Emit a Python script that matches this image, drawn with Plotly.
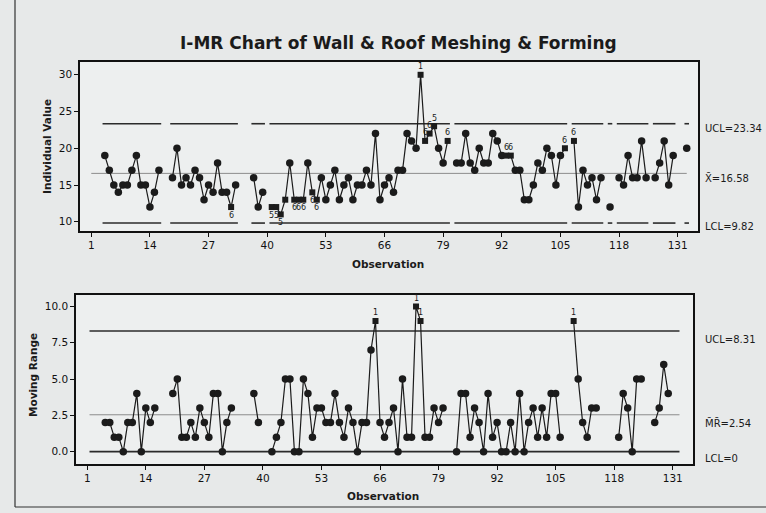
import plotly.graph_objects as go

# ---------------- data ----------------
observations = list(range(1, 134))

individual_values = [
    None, None, None, 19, 17, 15, 14, 15, 15, 17, 19, 15, 15, 12, 14, 17, None, None,
    16, 20, 15, 16, 15, 17, 16, 13, 15, 14, 18, 14, 14, 12, 15, None, None, None,
    16, 12, 14, None,
    12, 12, 11, 13, 18, 13, 13, 13, 18, 14, 13, 16, 13, 15, 17, 13, 15, 16, 13, 15,
    15, 17, 15, 22, 13, 15, 16, 14, 17, 17, 22, 21, 20, 30, 21, 22, 23, 20, 18, 21, None,
    18, 18, 22, 18, 17, 20, 18, 18, 22, 21, 19, 19, 19, 17, 17, 13, 13, 15, 18, 17,
    20, 19, 15, 19, 20, None,
    21, 12, 17, 15, 16, 13, 16, None, 12, None,
    16, 15, 19, 16, 16, 21, 16, None, 16, 18, 21, 15, 19, None, None, 20,
]

moving_range = [
    None, None, None, None, 2, 2, 1, 1, 0, 2, 2, 4, 0, 3, 2, 3, None, None, None,
    4, 5, 1, 1, 2, 1, 3, 2, 1, 4, 4, 0, 2, 3, None, None, None, None,
    4, 2, None, None,
    0, 1, 2, 5, 5, 0, 0, 5, 4, 1, 3, 3, 2, 2, 4, 2, 1, 3, 2, 0,
    2, 2, 7, 9, 2, 1, 2, 3, 0, 5, 1, 1, 10, 9, 1, 1, 3, 2, 3, None, None,
    0, 4, 4, 1, 3, 2, 0, 4, 1, 2, 0, 0, 2, 0, 4, 0, 2, 3, 1, 3, 1, 4, 4, 1, None, None,
    9, 5, 2, 1, 3, 3, None, None, None, None,
    1, 4, 3, 0, 5, 5, None, None, 2, 3, 6, 4, None, None, None,
]

x_ucl, x_center, x_lcl = 23.34, 16.58, 9.82
mr_ucl, mr_center, mr_lcl = 8.31, 2.54, 0.0

# flagged points (test number shown next to them)
x_flags = {32: "6", 41: "5", 42: "5", 43: "5", 44: "", 46: "6", 47: "6", 48: "6",
           50: "6", 51: "6", 74: "1", 75: "6", 76: "6", 77: "5", 80: "6",
           93: "6", 94: "6", 106: "6", 108: "6"}
mr_flags = {65: "1", 74: "1", 75: "1", 109: "1"}

tick_vals = [1, 14, 27, 40, 53, 66, 79, 92, 105, 118, 131]

title_text = "I-MR Chart of Wall & Roof Meshing & Forming"

# ---------------- helpers ----------------
W, H = 766, 513
INK = "#1b1b1b"
FONT = "DejaVu Sans"


def runs(vals):
    segs, start = [], None
    for i, v in enumerate(vals):
        if v is not None and start is None:
            start = i
        if v is None and start is not None:
            segs.append((start, i - 1))
            start = None
    if start is not None:
        segs.append((start, len(vals) - 1))
    return segs


def seg_line(vals, level):
    xs, ys = [], []
    for a, b in runs(vals):
        xs += [observations[a] - 0.5, observations[b] + 0.5, None]
        ys += [level, level, None]
    return xs, ys


fig = go.Figure()

# ---------- Individual chart ----------
for lvl in (x_ucl, x_lcl):
    xs, ys = seg_line(individual_values, lvl)
    fig.add_trace(go.Scatter(x=xs, y=ys, mode="lines", line=dict(color="#2b2b2b", width=1.6),
                             xaxis="x", yaxis="y", hoverinfo="skip"))
fig.add_trace(go.Scatter(x=[1, 133], y=[x_center, x_center], mode="lines",
                         line=dict(color="#8c8c8c", width=1), xaxis="x", yaxis="y"))

fig.add_trace(go.Scatter(x=observations, y=individual_values, mode="lines",
                         line=dict(color=INK, width=1.2), connectgaps=False,
                         xaxis="x", yaxis="y"))
circ_x = [o for o, v in zip(observations, individual_values) if v is not None and o not in x_flags]
circ_y = [individual_values[o - 1] for o in circ_x]
fig.add_trace(go.Scatter(x=circ_x, y=circ_y, mode="markers",
                         marker=dict(symbol="circle", size=7.5, color=INK),
                         xaxis="x", yaxis="y"))
sq_x = list(x_flags.keys())
sq_y = [individual_values[o - 1] for o in sq_x]
fig.add_trace(go.Scatter(x=sq_x, y=sq_y, mode="markers",
                         marker=dict(symbol="square", size=6, color=INK),
                         xaxis="x", yaxis="y"))

# ---------- Moving range chart ----------
for lvl, col, wid in [(mr_ucl, "#2b2b2b", 1.3), (mr_center, "#8c8c8c", 1), (mr_lcl, "#2b2b2b", 1.6)]:
    fig.add_trace(go.Scatter(x=[1.5, 132.5], y=[lvl, lvl], mode="lines",
                             line=dict(color=col, width=wid), xaxis="x2", yaxis="y2"))
fig.add_trace(go.Scatter(x=observations, y=moving_range, mode="lines",
                         line=dict(color=INK, width=1.2), connectgaps=False,
                         xaxis="x2", yaxis="y2"))
mc_x = [o for o, v in zip(observations, moving_range) if v is not None and o not in mr_flags]
mc_y = [moving_range[o - 1] for o in mc_x]
fig.add_trace(go.Scatter(x=mc_x, y=mc_y, mode="markers",
                         marker=dict(symbol="circle", size=7.5, color=INK),
                         xaxis="x2", yaxis="y2"))
ms_x = list(mr_flags.keys())
ms_y = [moving_range[o - 1] for o in ms_x]
fig.add_trace(go.Scatter(x=ms_x, y=ms_y, mode="markers",
                         marker=dict(symbol="square", size=6, color=INK),
                         xaxis="x2", yaxis="y2"))

# ---------- annotations ----------
ann = []
for o, lab in x_flags.items():
    if not lab:
        continue
    v = individual_values[o - 1]
    below = v < x_center
    ann.append(dict(x=o, y=v, xref="x", yref="y", text=lab, showarrow=False,
                    xanchor="center", yanchor="middle",
                    font=dict(family=FONT, size=8, color=INK),
                    yshift=-8 if below else 8))
for o, lab in mr_flags.items():
    ann.append(dict(x=o, y=moving_range[o - 1], xref="x2", yref="y2", text=lab,
                    xanchor="center", yanchor="middle",
                    showarrow=False, font=dict(family=FONT, size=8, color=INK), yshift=8))

lab_font = dict(family=FONT, size=10, color=INK)
for txt, val, yr, sh in [("UCL=23.34", x_ucl, "y", -5), ("X\u0304=16.58", x_center, "y", -5),
                         ("LCL=9.82", x_lcl, "y", -3),
                         ("UCL=8.31", mr_ucl, "y2", -8), ("M\u0304R\u0304=2.54", mr_center, "y2", -8),
                         ("LCL=0", mr_lcl, "y2", -7)]:
    ann.append(dict(x=703 / W, y=val, xref="paper", yref=yr, text=txt, showarrow=False,
                    xanchor="left", yanchor="middle", font=lab_font, yshift=sh))

mid = dict(xref="paper", yref="paper", showarrow=False, xanchor="center", yanchor="middle")
ann += [
    dict(x=398 / W, y=1 - 43 / H, text="<b>" + title_text + "</b>",
         font=dict(family=FONT, size=17, color=INK), **mid),
    dict(x=47 / W, y=1 - 147 / H, text="<b>Individual Value</b>", textangle=-90,
         font=dict(family=FONT, size=10.5, color=INK), **mid),
    dict(x=33 / W, y=1 - 375 / H, text="<b>Moving Range</b>", textangle=-90,
         font=dict(family=FONT, size=10.5, color=INK), **mid),
    dict(x=388 / W, y=1 - 264 / H, text="<b>Observation</b>",
         font=dict(family=FONT, size=10.5, color=INK), **mid),
    dict(x=383 / W, y=1 - 496 / H, text="<b>Observation</b>",
         font=dict(family=FONT, size=10.5, color=INK), **mid),
]

axis_common = dict(showgrid=False, zeroline=False, showline=True, linecolor="#111",
                   linewidth=1.5, mirror=True, ticks="outside", ticklen=4, tickwidth=1.2,
                   tickcolor="#111", tickfont=dict(family=FONT, size=10.5, color="#111"))

fig.update_layout(
    width=W, height=H,
    margin=dict(l=0, r=0, t=0, b=0),
    paper_bgcolor="#e7e9e9",
    plot_bgcolor="#edefef",
    showlegend=False,
    xaxis=dict(domain=[80 / W, 698 / W], range=[-1.5, 135.5], tickvals=tick_vals,
               anchor="y", **axis_common),
    yaxis=dict(domain=[1 - 231 / H, 1 - 62 / H], range=[8.74, 31.74],
               tickvals=[10, 15, 20, 25, 30], anchor="x", **axis_common),
    xaxis2=dict(domain=[76 / W, 693 / W], range=[-1.5, 135.5], tickvals=tick_vals,
                anchor="y2", **axis_common),
    yaxis2=dict(domain=[1 - 464 / H, 1 - 294.7 / H], range=[-0.85, 10.81],
                tickvals=[0, 2.5, 5, 7.5, 10], tickformat=".1f", anchor="x2", **axis_common),
    annotations=ann,
    shapes=[
        dict(type="line", xref="paper", yref="paper", x0=15 / W, x1=15 / W,
             y0=1 - 507 / H, y1=1, line=dict(color="#333", width=1.2)),
        dict(type="line", xref="paper", yref="paper", x0=15 / W, x1=1,
             y0=1 - 507 / H, y1=1 - 507 / H, line=dict(color="#333", width=1.2)),
    ],
)

fig.write_html(
    "out.html",
    config={"displayModeBar": False},
    post_script="document.body.style.margin='0';document.body.style.background='#e7e9e9';",
)
